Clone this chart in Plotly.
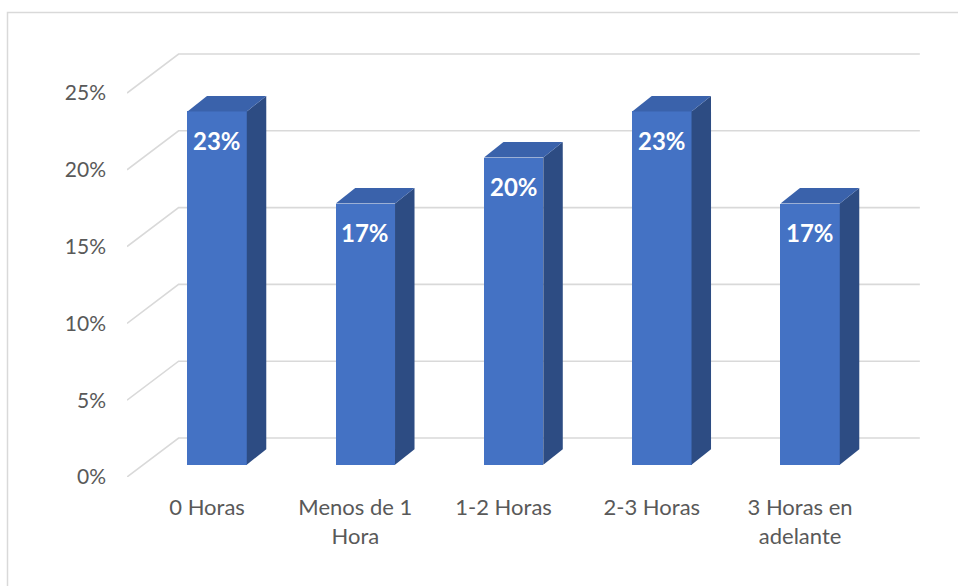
import plotly.graph_objects as go

# Category data
categories = ["0 Horas", "Menos de 1<br>Hora", "1-2 Horas", "2-3 Horas", "3 Horas en<br>adelante"]
values = [0.23, 0.17, 0.20, 0.23, 0.17]
y_ticks = [0.0, 0.05, 0.10, 0.15, 0.20, 0.25]

# Figure geometry (pixels)
W, H = 958, 586
M_L, M_R, M_T, M_B = 127, 38, 50, 109
PX_PER_CAT = 148.25          # horizontal pixels per category
PX_PER_UNIT = 1536.0         # vertical pixels per 1.0 (100 %)

def dxu(px):
    return px / PX_PER_CAT

def dyu(px):
    return px / PX_PER_UNIT

# Oblique projection offsets
WALL_DX, WALL_DY = dxu(51.6), dyu(39.0)      # floor front edge -> back wall
FRONT_DX, FRONT_DY = dxu(16.0), dyu(12.3)    # floor front edge -> bar front face
DEPTH_DX, DEPTH_DY = dxu(19.5), dyu(15.5)    # bar depth
BAR_W = 0.40

FRONT_COLOR = "#4472C4"
TOP_COLOR = "#3A62AB"
SIDE_COLOR = "#2D4C83"
GRID_COLOR = "#D9D9D9"
TEXT_COLOR = "#595959"
FONT = "Lato"

x_max = -0.5 + (W - M_L - M_R) / PX_PER_CAT
y_max = (H - M_T - M_B) / PX_PER_UNIT

fig = go.Figure()

# Side and top faces of each column
for i, v in enumerate(values):
    xl = i + FRONT_DX - BAR_W / 2
    xr = i + FRONT_DX + BAR_W / 2
    y0 = FRONT_DY
    y1 = FRONT_DY + v
    fig.add_trace(go.Scatter(
        x=[xr, xr + DEPTH_DX, xr + DEPTH_DX, xr, xr],
        y=[y0, y0 + DEPTH_DY, y1 + DEPTH_DY, y1, y0],
        mode="lines", fill="toself", fillcolor=SIDE_COLOR,
        line=dict(width=0), hoverinfo="skip", showlegend=False, cliponaxis=False,
    ))
    fig.add_trace(go.Scatter(
        x=[xl, xr, xr + DEPTH_DX, xl + DEPTH_DX, xl],
        y=[y1, y1, y1 + DEPTH_DY, y1 + DEPTH_DY, y1],
        mode="lines", fill="toself", fillcolor=TOP_COLOR,
        line=dict(width=0), hoverinfo="skip", showlegend=False, cliponaxis=False,
    ))

# Front faces
fig.add_trace(go.Bar(
    x=[i + FRONT_DX for i in range(len(values))],
    y=values,
    base=[FRONT_DY] * len(values),
    width=BAR_W,
    marker=dict(color=FRONT_COLOR, line=dict(width=0)),
    showlegend=False,
    cliponaxis=False,
))

# Data labels
for i, v in enumerate(values):
    fig.add_annotation(
        x=i + FRONT_DX, y=FRONT_DY + v, xref="x", yref="y",
        text=f"<b>{v:.0%}</b>", showarrow=False,
        yanchor="middle", xanchor="center", yshift=-29,
        font=dict(family=FONT, size=24, color="white"),
    )

# Wall gridlines: slanted on the side wall, horizontal on the back wall
shapes = []
for t in y_ticks:
    shapes.append(dict(
        type="path", xref="x", yref="y", layer="below",
        path=(f"M {-0.5},{t} L {-0.5 + WALL_DX},{t + WALL_DY} "
              f"L {len(values) - 0.5 + WALL_DX},{t + WALL_DY}"),
        line=dict(color=GRID_COLOR, width=1.6),
    ))

# Chart frame
pw, ph = W - M_L - M_R, H - M_T - M_B
shapes.append(dict(
    type="rect", xref="paper", yref="paper", layer="below",
    x0=(7.5 - M_L) / pw, x1=(W + 5 - M_L) / pw,
    y0=(H - M_B - (H + 5)) / ph, y1=(H - M_B - 12.5) / ph,
    line=dict(color=GRID_COLOR, width=1.5), fillcolor="rgba(0,0,0,0)",
))

fig.update_layout(
    width=W, height=H,
    margin=dict(l=M_L, r=M_R, t=M_T, b=M_B, pad=0),
    paper_bgcolor="white", plot_bgcolor="white",
    shapes=shapes,
    bargap=0,
    font=dict(family=FONT, color=TEXT_COLOR, size=21),
    xaxis=dict(
        range=[-0.5, x_max], showgrid=False, zeroline=False, showline=False,
        tickmode="array", tickvals=[i + 0.04 for i in range(len(categories))],
        ticktext=categories, ticks="", ticklabelstandoff=15,
        tickfont=dict(family=FONT, size=22, color=TEXT_COLOR),
        fixedrange=True,
    ),
    yaxis=dict(
        range=[0, y_max], showgrid=False, zeroline=False, showline=False,
        tickmode="array", tickvals=y_ticks, tickformat=".0%",
        ticks="", ticklabelstandoff=20,
        tickfont=dict(family=FONT, size=21, color=TEXT_COLOR),
        fixedrange=True,
    ),
)

fig.write_html("out.html")
